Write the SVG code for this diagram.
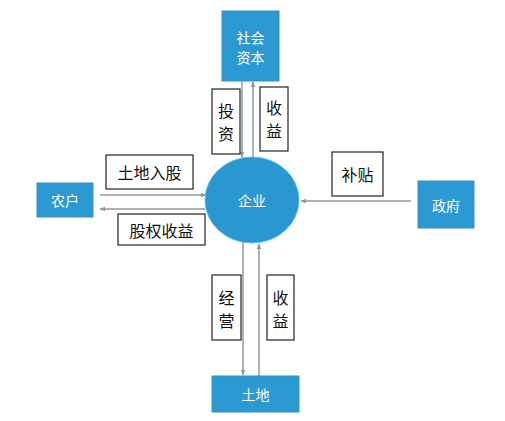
<svg xmlns="http://www.w3.org/2000/svg" width="505" height="421" viewBox="0 0 505 421">
<defs>
<marker id="ah" viewBox="0 0 10 10" refX="9" refY="5" markerWidth="6" markerHeight="6" orient="auto" markerUnits="userSpaceOnUse">
<path d="M0,1 L10,5 L0,9 z" fill="#8e979e"/>
</marker>
</defs>
<style>
.node{fill:#2b99d2;stroke:#3a8fc0;stroke-width:1}
.nt{fill:#ffffff;font-family:"Noto Sans CJK SC","Noto Sans",sans-serif;font-size:14px;text-anchor:middle;dominant-baseline:central}
.lb{fill:#ffffff;stroke:#222;stroke-width:1.2}
.lt{fill:#111;font-family:"Noto Sans CJK SC","Noto Sans",sans-serif;font-size:16px;text-anchor:middle;dominant-baseline:central}
.c{stroke:#a9b4bb;stroke-width:2;fill:none;marker-end:url(#ah)}
</style>
<rect width="505" height="421" fill="#ffffff"/>
<g id="connectors">
<line class="c" x1="242" y1="81" x2="242" y2="157"/>
<line class="c" x1="253" y1="158" x2="253" y2="82"/>
<line class="c" x1="100" y1="195" x2="206" y2="195"/>
<line class="c" x1="205" y1="209" x2="100" y2="209"/>
<line class="c" x1="411" y1="201" x2="301" y2="201"/>
<line class="c" x1="243" y1="242" x2="243" y2="375"/>
<line class="c" x1="259" y1="376" x2="259" y2="244"/>
</g>
<g id="labels">
<rect class="lb" x="212" y="89" width="28" height="65"/>
<text class="lt" x="226" y="110">投</text><text class="lt" x="226" y="133">资</text>
<rect class="lb" x="260" y="87" width="28" height="64"/>
<text class="lt" x="274" y="107">收</text><text class="lt" x="274" y="130">益</text>
<rect class="lb" x="106" y="155" width="87" height="34"/>
<text class="lt" x="149.5" y="172">土地入股</text>
<rect class="lb" x="118" y="214" width="87" height="31"/>
<text class="lt" x="161.5" y="229.5">股权收益</text>
<rect class="lb" x="332" y="152" width="51" height="44"/>
<text class="lt" x="357.5" y="174">补贴</text>
<rect class="lb" x="212" y="275" width="29" height="65"/>
<text class="lt" x="226.5" y="297">经</text><text class="lt" x="226.5" y="320">营</text>
<rect class="lb" x="267" y="275" width="27" height="65"/>
<text class="lt" x="280.5" y="297">收</text><text class="lt" x="280.5" y="320">益</text>
</g>
<g id="shehuiziben">
<rect class="node" x="222" y="11" width="57" height="70"/>
<text class="nt" x="250.5" y="37">社会</text><text class="nt" x="250.5" y="57">资本</text>
</g>
<g id="qiye">
<ellipse cx="252" cy="200" rx="47" ry="43" fill="#2a97d0" stroke="#5cc0ea" stroke-width="1"/>
<text class="nt" x="252" y="200">企业</text>
</g>
<g id="nonghu">
<rect class="node" x="37" y="183" width="56" height="34"/>
<text class="nt" x="65" y="200">农户</text>
</g>
<g id="zhengfu">
<rect class="node" x="418" y="181" width="56" height="47"/>
<text class="nt" x="446" y="204.5">政府</text>
</g>
<g id="tudi">
<rect class="node" x="212" y="376" width="87" height="36"/>
<text class="nt" x="255.5" y="394">土地</text>
</g>
</svg>
